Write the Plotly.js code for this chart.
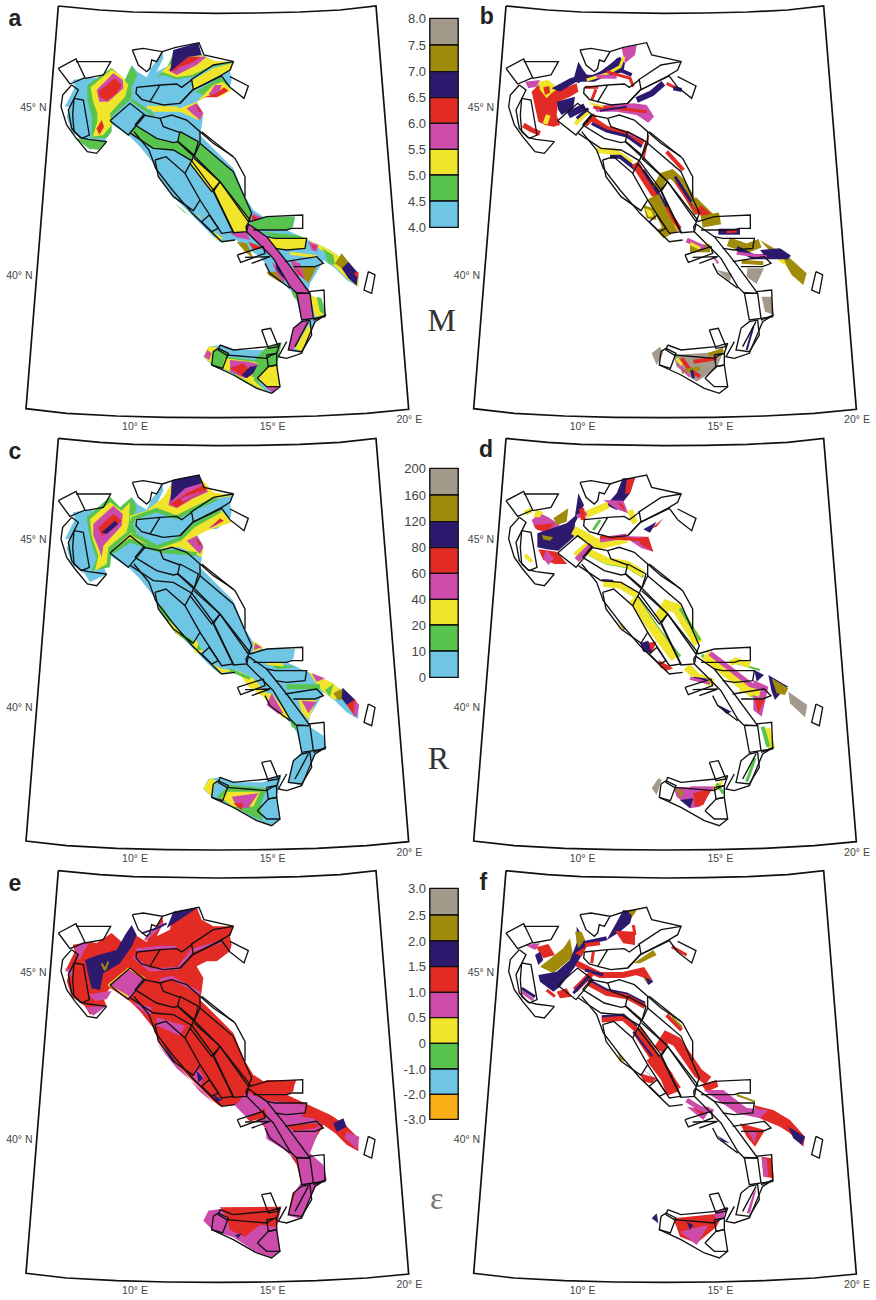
<!DOCTYPE html>
<html><head><meta charset="utf-8">
<script src="https://cdn.plot.ly/plotly-3.0.1.min.js"></script>
<style>html,body{margin:0;padding:0;background:#fff}#g{width:876px;height:1300px}</style>
</head><body><div id="g"></div>
<script>
const C={B:'#6ec5e4',G:'#58c44e',Y:'#f0e52b',M:'#cc4bab',R:'#e12b24',N:'#2d1a6e',O:'#a08c0a',A:'#a49a8c',T:'#f8b016'};
const magLabels=['8.0','7.5','7.0','6.5','6.0','5.5','5.0','4.5','4.0'];
const rateLabels=['200','160','120','80','60','40','20','10','0'];
const epsLabels=['3.0','2.5','2.0','1.5','1.0','0.5','0','-1.0','-2.0','-3.0'];
const magColors=['A','O','N','R','M','Y','G','B'];
const epsColors=['A','O','N','R','M','Y','G','B','T'];
const magEdges=[55,135,215,293,370,448,525,603,682];
const rateEdges=[115,195,275,353,430,508,585,663,742];
const epsEdges=[85,165,243,320,397,473,550,627,703,778];
const land=[218,240,270,232,290,235,335,205,375,240,395,195,412,215,440,232,455,200,470,182,487,155,490,175,470,215,510,195,520,150,590,128,605,165,640,185,700,185,690,215,695,240,690,260,650,290,620,290,590,305,610,340,605,380,600,405,650,455,700,505,735,590,760,630,790,650,885,650,880,680,860,690,925,720,990,750,1040,785,1075,820,1075,860,1040,840,1005,805,970,780,960,800,930,850,925,880,970,910,980,945,950,960,930,1000,905,1060,865,1050,880,985,905,960,890,900,870,870,850,850,810,820,795,790,780,770,740,745,710,720,660,725,640,710,600,670,530,600,480,540,460,490,420,440,385,405,330,370,310,400,320,425,270,450,255,425,215,395,200,350,210,320,195,320,225,260];
const sicily=[610,1070,625,1040,660,1035,710,1050,790,1050,845,1025,830,1090,840,1160,815,1180,770,1165,700,1120,640,1100];
const zones=[
[175,205,228,177,255,233,210,252,175,205],
[228,185,332,185,310,225,255,235],
[215,255,188,285,183,320,200,375,225,410,262,455,290,460,320,425,265,418,240,412,215,385,205,330,220,300,235,270,215,255],
[222,295,250,300,268,405,245,415,222,395,218,345,222,295],
[397,150,430,145,487,155,470,185,455,180,450,205,440,215,415,195,397,150],
[410,262,480,255,450,305,425,298,408,280,410,262],
[480,255,530,252,545,262,575,240,580,268,540,310,490,315,450,305],
[572,240,640,195,700,185,690,210,660,228,578,270],
[540,310,578,270,665,228,690,262],
[690,230,745,258,732,295,690,262],
[330,362,390,310,435,345,400,385,385,405,330,362],
[405,375,430,345,480,355,515,345,560,360,600,395,600,430,582,470],
[405,375,470,415,520,428,535,425,582,465,575,482,520,450,460,445,392,400],
[540,395,595,425,582,470,533,425,540,395],
[480,355,490,380,540,398],
[465,480,498,470,555,520,600,600,580,632,520,590,475,530,465,480],
[555,520,575,482,640,570,700,695,665,700,630,645,600,600],
[605,665,628,645,655,685,635,695,605,665],
[582,475,660,545,635,575,570,490],
[660,545,750,660,738,680,740,695,700,698,640,575,660,545],
[600,430,700,515,755,640,745,665,660,545,585,470],
[605,395,705,475,735,530,735,590],
[402,395,447,450,467,505,517,570,577,640,635,695,665,725,705,720],
[745,672,800,710,860,785,925,870,930,880,890,880,870,860,820,775,740,695,745,672],
[750,665,800,650,908,645,908,685,875,685,860,690,760,690],
[800,710,825,715,920,715,915,745,860,750,825,745],
[855,785,950,770,970,790,945,800,880,800],
[712,765,790,740,795,760,722,787,712,765],
[735,772,810,770,755,790],
[890,878,930,880,940,955,905,960,890,878],
[925,875,972,870,975,950,940,955],
[880,985,905,965,930,960,935,1005,905,1055,865,1050,880,985],
[885,1040,925,965],
[940,960,978,945,945,965,930,1000,905,1060,860,1075,835,1070,860,1025],
[870,865,850,850,810,820,795,790],
[660,1035,700,1050,805,1040,840,1030,830,1060,815,1065,800,1075,680,1065,655,1050,660,1035],
[640,1055,655,1045,685,1060,668,1105,635,1095,640,1055],
[785,990,812,985,835,1040,805,1045,785,990],
[800,1065,830,1060,830,1095,805,1100,800,1065],
[772,1135,805,1100,830,1095,840,1160,800,1160,772,1135],
[635,1095,700,1125,770,1165,815,1180,840,1160],
[1105,815,1125,825,1115,880,1092,870,1105,815],
[487,155,527,142,597,128,612,165,702,185],
[600,395,640,430,700,470]
];
const frame=[175,18,300,30,400,36,530,39,650,40,770,39,900,36,1020,30,1128,18,1226,1228,1100,1240,950,1248,800,1252,650,1253,500,1252,350,1248,200,1240,78,1226,175,18];
const fillsA=[
['G',[225,415,320,425,295,450,265,445]],
['G',[262,255,335,203,375,240,395,197,412,225,395,262,395,295,335,350,335,395,320,415,275,415,275,350,262,300]],
['Y',[272,262,335,208,365,228,385,255,375,290,330,340,335,375,310,405,278,410,292,365,292,340,278,300]],
['M',[290,270,340,220,368,240,370,265,325,305,298,305]],
['R',[295,275,345,235,365,255,350,280,320,302,300,290]],
['R',[290,385,305,360,312,380,298,405]],
['G',[470,232,500,205,525,150,605,165,640,182,700,190,640,200,580,230,530,238,490,225]],
['Y',[485,215,515,190,600,165,640,182,695,186,640,196,575,225,530,232]],
['M',[505,210,565,170,620,170,590,195,530,225]],
['R',[510,215,565,170,600,170,585,185,530,210]],
['M',[530,205,570,190,610,172,590,188,540,212]],
['N',[520,150,595,128,605,165,565,170,510,215]],
['Y',[578,240,640,205,695,190,695,210,660,225,580,265]],
['G',[585,275,660,232,690,255,660,262,610,285]],
['Y',[590,305,640,255,668,245,695,270,660,290,620,290]],
['M',[625,285,645,255,665,255,655,285]],
['R',[612,292,650,280,672,262,685,272,650,292]],
['Y',[445,320,540,325,590,305,610,345,595,360,540,335,460,335]],
['M',[560,325,590,310,610,340,600,360,575,340]],
['R',[590,315,605,335,595,335]],
['G',[405,375,470,415,520,428,535,425,582,465,575,482,520,450,460,445,392,400]],
['G',[540,395,595,425,582,470,533,425]],
['G',[600,430,700,515,755,640,745,665,660,545,585,470]],
['Y',[582,475,660,545,635,575,570,490]],
['Y',[660,545,750,660,738,680,740,695,700,698,640,575]],
['G',[750,665,800,650,885,650,875,685,860,690,760,690]],
['Y',[800,712,825,715,920,715,915,745,860,750,825,745]],
['G',[785,695,890,705,920,715,825,715]],
['B',[855,785,950,770,970,790,945,800,880,800]],
['Y',[925,720,990,750,1040,785,1075,825,1075,860,1040,835,1005,800,990,790,975,760]],
['G',[965,745,1000,765,1005,795,985,790,975,760]],
['M',[925,725,955,735,950,755,935,750]],
['R',[935,735,948,740,942,750]],
['O',[1005,790,1025,760,1045,785,1025,805]],
['N',[1025,805,1045,785,1075,820,1070,857,1045,835]],
['R',[1060,820,1075,815,1075,835]],
['M',[760,640,790,655,755,665]],['R',[755,645,775,655,755,660]],
['Y',[640,695,670,715,650,722]],
['M',[690,700,740,695,750,720,710,712]],
['O',[710,725,740,730,760,775,735,755]],
['R',[745,725,770,735,790,745,760,750]],
['O',[800,815,840,815,845,850,805,825]],
['M',[815,785,860,825,850,850,825,810]],
['N',[825,780,855,815,850,835,830,810]],
['O',[900,800,950,800,925,850,905,830]],
['M',[870,780,900,790,915,835,890,825]],
['R',[880,800,900,815,915,840,895,820]],
['M',[745,672,800,710,860,785,925,870,930,880,890,880,870,860,820,775,740,695]],
['M',[890,878,930,880,940,955,905,960]],
['Y',[930,885,965,900,975,945,945,950]],
['G',[950,890,965,895,975,945,960,935]],
['M',[880,985,905,965,930,960,900,1010,880,1050,865,1050]],
['Y',[925,975,935,990,905,1055,885,1045]],
['G',[875,870,890,880,895,905,880,890]],
['Y',[610,1070,625,1040,650,1040,640,1095]],
['M',[612,1070,622,1050,635,1060,628,1080]],
['G',[640,1055,655,1045,685,1060,668,1105,635,1095]],
['G',[795,1045,845,1028,830,1100,805,1100,760,1085]],
['G',[680,1070,760,1080,770,1135,790,1170,740,1150,695,1120,665,1105]],
['Y',[675,1075,760,1085,790,1095,760,1140,800,1175,750,1150,695,1115,665,1105]],
['M',[690,1080,745,1085,785,1095,755,1125,735,1135,690,1115]],
['R',[690,1105,730,1090,755,1115,730,1130]],
['N',[725,1125,750,1100,785,1095,760,1120,740,1135]],
['G',[785,1070,800,1075,820,1065,835,1100,805,1100,770,1135,755,1130]],
['Y',[772,1135,805,1100,830,1095,840,1160,800,1160]],
['M',[795,1160,835,1158,820,1180]],
['G',[525,610,560,640,575,650,550,635]],
['Y',[590,640,605,655,595,650]]
];
const strokesA=[
['Y',3,[440,322,470,322,535,325]],
['G',3,[395,300,460,345]],
['Y',3,[575,265,650,225]],
['Y',3,[870,760,950,770]]
];
const fillsB=[
['R',[215,275,240,250,270,270,300,270,350,250,355,275,330,290,295,305,290,345,300,375,280,380,255,375,235,365,225,320]],
['Y',[235,245,265,240,295,265,275,280,260,295,240,270]],
['R',[250,262,268,258,270,278,255,285]],
['N',[290,305,345,290,340,325,305,345,295,330]],
['N',[275,265,330,235,345,230,350,245,300,275]],
['N',[355,185,370,210,385,230,355,250,340,240]],
['M',[195,245,240,240,230,260,205,265]],
['M',[485,145,530,135,525,165,495,190]],
['N',[440,200,480,170,495,190,490,215,430,235,400,230]],
['M',[400,318,520,310,560,315,582,350,565,368,530,345,470,335,410,335]],
['O',[550,615,580,625,590,660,560,655]],
['Y',[555,625,575,632,580,650,565,650]],
['O',[590,690,620,675,640,700,610,715]],
['O',[900,720,985,770,1040,820,1030,855,995,825,975,790,935,760]],
['Y',[945,770,970,775,980,795,965,790]],
['N',[900,750,960,745,985,772,920,775]],
['A',[770,810,815,820,810,845]],
['A',[862,805,912,805,890,852,860,830]],
['A',[905,890,935,890,942,945,915,935]],
['A',[575,1060,600,1040,610,1060,590,1095]],
['A',[640,1065,790,1055,770,1105,710,1145,650,1100]]
];
const strokesB=[
['Y',5,[265,345,255,372]],['R',5,[190,375,215,390,240,400]],
['N',7,[355,235,400,235,445,215,480,180]],['Y',3,[380,240,440,222,480,200,492,170]],
['M',4,[410,230,470,230]],['R',3,[440,215,510,235,520,260]],['N',4,[480,210,515,225]],
['R',3,[375,262,415,262]],['R',3,[408,268,395,300]],
['N',6,[530,300,575,280,610,250]],['R',3,[620,250,650,265]],['N',4,[640,265,665,270]],
['N',7,[325,345,375,320]],['Y',4,[345,372,385,335]],['N',3,[350,355,385,325]],['R',5,[375,375,405,345]],
['R',3,[400,322,470,325,560,335]],['N',2,[420,332,500,320]],['Y',2,[390,310,430,320]],
['R',5,[395,355,440,385,500,400,550,430]],['N',3,[395,370,440,393,500,408,545,440]],['M',2,[500,398,550,420]],
['R',2,[565,405,550,480]],
['Y',6,[410,450,465,455,515,490]],['N',4,[450,470,480,470,525,505]],
['R',8,[525,490,570,560,625,640,655,690]],['N',3,[550,510,620,620]],['Y',3,[575,590,650,690]],
['O',9,[590,565,610,530,635,522,665,550,715,640]],['R',5,[650,545,715,640]],['N',3,[645,530,700,615]],
['O',12,[580,590,610,650,635,700]],['R',4,[620,455,670,510]],
['O',8,[700,600,750,650]],['R',8,[715,625,750,655]],
['O',12,[725,665,780,655]],['N',6,[775,695,840,695]],['R',3,[800,695,830,693]],
['O',9,[805,725,860,745,900,730]],['N',5,[830,745,880,770,985,770]],['M',3,[830,760,920,770]],
['O',4,[845,785,910,790]],['N',3,[960,750,990,770]],
['O',8,[690,745,750,745]],['M',5,[680,720,735,745]],['Y',3,[690,730,720,745]],['M',2,[760,770,775,790]],
['N',2,[880,980,860,1050]],
['R',4,[665,1075,690,1110,720,1130]],['O',4,[665,1115,720,1105]],['Y',3,[650,1075,665,1095]],['N',3,[695,1110,700,1135]],['R',4,[700,1085,770,1075]],['O',4,[745,1065,790,1050]],['M',2,[650,1090,690,1130]]
];
const fillsC=[
['G',[260,262,330,200,360,232,395,202,410,232,395,277,410,307,335,362,330,412,275,422,290,387,270,327]],
['Y',[270,267,330,217,365,242,390,217,385,302,325,352,320,402,285,422,295,377,275,317]],
['M',[280,282,340,227,368,252,365,287,310,347,305,382,295,352,280,317]],
['R',[295,292,340,252,365,272,330,302,305,317]],
['N',[305,307,345,272,355,282,320,312]],
['Y',[390,297,390,257,440,242,490,202,520,152,605,147,640,187,700,197,640,207,580,242,530,257,470,247,410,265]],
['M',[505,225,520,160,600,152,625,185,580,205,530,235]],
['R',[510,222,560,190,612,165,620,180,575,205,530,232]],
['N',[515,150,597,135,605,160,555,175,512,215]],
['M',[540,205,585,190,610,180,590,195,550,215]],
['Y',[395,307,460,352,530,327,580,287,665,242,695,277,620,302,590,317,610,357,605,382,540,352,470,357,400,327,345,352]],
['M',[560,332,590,317,610,352,600,372,575,347]],
['R',[590,322,607,345,595,345]],
['M',[625,295,660,268,672,272,640,290]],
['R',[630,292,670,272,660,265,640,285]],
['Y',[585,625,610,665,585,670,578,640]],
['G',[595,640,605,660,590,660]],
['Y',[760,632,790,652,760,670]],['M',[765,640,785,652,762,660]],
['Y',[635,700,660,715,720,725,760,745,800,790,815,790,870,860,850,865,790,800,745,770,710,720,660,730]],
['M',[800,825,815,790,850,850,835,852]],
['G',[810,700,890,710,830,718]],
['Y',[925,725,1000,760,1025,785,1005,810,975,790,955,770]],
['M',[935,730,975,745,950,755]],
['O',[1000,790,1030,775,1030,805,1015,812]],
['N',[1028,773,1066,810,1040,825,1025,805]],
['R',[1040,825,1065,808,1075,825,1065,860]],
['M',[1065,812,1078,825,1070,862,1060,850]],
['G',[975,780,1000,762,990,800]],
['Y',[895,810,950,810,925,870,905,845]],
['M',[905,812,950,815,925,850]],
['G',[870,870,885,875,890,900,875,890]],
['Y',[610,1075,630,1045,648,1050,635,1100]],
['G',[650,1100,690,1065,800,1075,780,1130,790,1182,815,1185,770,1165,700,1130]],
['Y',[680,1085,780,1085,760,1130,700,1130,665,1105]],
['M',[695,1100,775,1090,745,1135,710,1130]],
['R',[700,1120,730,1120,725,1140]]
];
const strokesC=[
['G',4,[385,305,400,265,470,240,530,262,580,237,650,205]],
['G',4,[395,310,470,352,540,327,580,287,660,242]],
['G',4,[335,367,390,332,480,362,590,372]],
['G',4,[480,530,530,605,580,640]],
['Y',3,[505,575,540,615]],
['G',5,[860,770,960,770]],
['Y',3,[800,700,850,705]],
['G',3,[690,720,750,745]]
];
const fillsD=[
['M',[215,270,240,250,265,262,300,285,255,310,225,295]],
['R',[222,285,285,280,262,302,232,300]],
['N',[232,310,320,280,345,258,355,190,372,225,345,280,342,320,295,362,260,358,232,352]],
['O',[280,265,325,235,320,275,290,285]],
['O',[245,315,280,322,270,332,250,328]],
['R',[235,358,290,365,322,402,285,402,250,390]],
['M',[258,360,282,385,265,405,250,385]],
['Y',[228,240,250,245,240,262,220,262]],
['N',[488,145,525,145,510,190,470,240,438,225,470,190]],
['R',[500,150,525,143,510,190,495,192]],
['M',[430,210,490,212,505,250,470,238]],
['R',[470,215,490,225,495,245]],
['M',[490,318,560,320,580,365,545,355]],
['R',[530,325,565,320,580,365,545,345]],
['R',[550,640,590,635,575,670,545,660]],
['N',[540,640,565,632,575,670,550,665]],
['R',[595,690,640,715,620,722,600,712]],
['O',[470,570,500,600,490,600]],
['N',[883,720,912,735,890,755]],
['N',[925,735,985,770,975,775,945,810,935,785]],
['O',[935,745,985,775,975,795,950,790]],
['A',[985,785,1042,825,1035,862,990,820]],
['N',[770,822,815,845,800,852]],
['R',[575,295,610,265,590,290]],
['N',[550,298,590,275,570,308]],
['A',[575,1075,595,1045,605,1050,590,1095]],
['M',[640,1070,760,1075,720,1130,690,1135,650,1100]],
['R',[700,1090,755,1075,730,1125,705,1130]],
['N',[660,1110,700,1105,690,1135]],
['O',[645,1075,670,1085,665,1105]],
['Y',[740,1080,790,1050,780,1080]],
['M',[880,750,925,770,905,860,880,840]],
['R',[885,810,915,805,895,850]]
];
const strokesD=[
['Y',5,[195,250,215,240]],['Y',4,[195,375,215,395]],
['Y',9,[340,300,420,345,500,325]],['M',5,[420,330,500,318]],['R',3,[420,322,560,330]],
['Y',7,[375,255,445,225]],['Y',6,[510,240,525,280]],['G',3,[420,270,400,300]],['M',4,[350,260,380,250]],
['R',5,[365,235,370,270]],
['G',3,[390,375,440,400,500,410,550,440]],['Y',7,[385,365,440,392,500,402,550,432]],
['Y',7,[430,460,480,465,530,495]],['N',2,[425,450,460,452]],
['G',3,[530,500,590,590,660,680]],['Y',9,[520,505,575,590,645,685]],
['Y',10,[595,565,620,525,650,535,715,640]],['G',3,[660,535,720,630]],
['G',3,[725,675,830,760,880,800]],['Y',10,[735,675,830,750,880,790]],['M',5,[750,670,850,745,905,790]],
['Y',6,[810,700,835,690]],['Y',7,[840,775,900,790]],['G',2,[830,700,900,720]],['Y',6,[820,690,870,705]],
['Y',8,[680,710,710,740,760,760]],['N',3,[700,745,740,750]],['M',3,[690,745,750,760]],
['Y',7,[920,895,935,955]],['G',4,[908,890,925,950]],
['G',3,[885,985,860,1055]],['Y',5,[345,375,385,340]],['M',6,[350,390,395,345]],
['M',4,[690,1075,760,1075]],['G',3,[770,1060,790,1090]]
];
const fillsE=[
['M',[225,260,270,245,250,275,240,300,232,295]],
['M',[195,325,220,330,215,350]],
['N',[255,300,295,285,350,270,375,225,395,195,410,225,395,260,360,310,310,340,300,390,275,385,265,345]],
['M',[265,403,335,393,320,418,285,423]],
['M',[255,442,320,437,280,467]],
['M',[330,377,385,329,435,362,400,407,380,417]],
['M',[470,472,555,497,540,527,470,497]],
['M',[395,427,455,442,450,470]],
['M',[705,737,740,697,800,720,920,735,915,760,965,790,930,880,970,915,980,957,950,975,930,1017,905,1077,865,1067,890,987,905,965,890,900,850,867,800,837,795,797,770,777,750,782]],
['R',[750,690,800,660,890,660,880,680,790,705]],
['R',[740,775,795,745,800,770,750,785]],
['R',[860,795,970,790,945,805,880,812]],
['R',[925,738,1000,770,1040,800,1030,815,960,778,905,770,920,745]],
['N',[1000,790,1030,775,1040,800,1010,815]],
['M',[1040,815,1078,830,1072,868,1035,835]],
['M',[610,1082,625,1052,660,1047,700,1062,790,1062,845,1037,830,1102,840,1172,815,1192,770,1177,700,1132,640,1112]],
['R',[660,1042,840,1040,830,1100,780,1095,735,1130,690,1110,680,1070]],
['N',[705,1125,725,1120,715,1135]],
['N',[500,205,520,155,590,145,560,165]],
['M',[470,550,530,612,600,695,640,728,610,695,530,625]],
['N',[490,552,530,610,515,600]],
['M',[590,620,612,650,600,680,580,650]],
['N',[590,632,610,655,595,668]],
['N',[640,705,668,720,650,725]]
];
const strokesE=[
['O',2,[305,310,315,330,325,305]],['O',2,[315,330,312,320]],
['Y',1.5,[325,375,385,325,435,355]],['Y',1.5,[325,375,385,410]],
['M',3,[400,290,450,330,535,325,575,272,665,245]],
['M',3,[408,270,480,262,530,262]],
['M',3,[435,240,490,190]],['M',3,[480,360,515,352,600,400]],
['N',2,[425,220,470,205,500,190]]
];
const fillsF=[
['M',[195,255,240,250,225,270]],
['R',[228,262,265,252,285,285,250,295]],
['O',[240,320,310,265,330,235,340,290,280,340]],
['N',[235,345,290,335,330,300,350,250,350,200,375,240,380,260,345,320,300,380,280,395,240,365]],
['N',[225,285,240,275,250,300,235,315]],
['O',[345,215,365,215,375,240,355,265]],
['R',[290,395,320,385,335,410,300,415]],
['N',[490,150,520,155,510,190,480,215,440,240,460,205]],
['O',[500,150,530,150,518,170]],
['R',[465,212,525,215,525,255,490,250]],
['R',[345,280,380,258,365,290]],
['O',[520,310,580,270,590,285,540,310]],
['R',[500,335,555,325,580,365,555,355]],
['O',[550,355,565,350,565,375]],
['N',[555,350,580,365,565,375]],
['O',[470,570,495,605,480,600]],
['R',[540,640,590,655,575,670,550,665]],
['N',[545,625,590,660,575,650]],
['R',[725,675,770,660,775,680,740,695]],
['M',[730,690,790,690,900,775,830,760]],
['R',[880,735,940,750,990,780,1035,830,1030,860,990,820,960,800,900,775]],
['M',[820,740,925,750,900,775]],
['N',[985,800,1035,830,1025,855,1000,835]],
['R',[840,790,915,810,885,860,860,830]],
['M',[860,810,890,815,885,850]],
['M',[680,740,750,750,730,780]],
['R',[700,745,750,740,725,765]],
['N',[770,825,810,850,790,845]],
['R',[905,890,935,895,942,955,910,950]],
['M',[905,895,920,895,925,950,912,950]],
['N',[575,1075,590,1060,595,1090]],
['R',[640,1075,790,1060,770,1100,710,1150,660,1130]],
['M',[660,1115,700,1105,745,1095,710,1155]],
['N',[680,1085,700,1095,690,1110]],
['M',[765,1055,800,1040,790,1075,765,1090]],
['M',[880,1000,890,985,870,1060,860,1060]]
];
const strokesF=[
['R',6,[350,310,420,345,490,345,555,330]],
['N',3,[375,330,430,345]],
['N',4,[370,250,440,235]],['R',4,[375,255,420,250]],
['R',3,[400,275,395,310]],['R',3,[520,195,525,225]],
['R',6,[345,390,395,340]],['N',3,[340,400,385,350]],
['N',3,[385,360,440,390,500,402,555,430]],['R',5,[385,370,440,400,500,410,555,440]],
['N',3,[425,470,490,465,530,500]],['R',5,[425,480,490,475,530,510]],
['R',10,[530,510,590,600,650,690]],['N',2,[520,515,585,600]],
['R',10,[595,570,620,530,650,545,715,640,745,662]],
['R',13,[575,590,620,650,640,700]],
['R',4,[620,465,665,510]],['O',2,[635,470,665,500]],
['M',5,[680,720,720,745,760,755]],
['N',3,[185,385,225,410]],['M',3,[185,395,220,420]],
['R',3,[635,260,680,285]],['R',3,[260,390,285,410]],
['O',2,[830,705,885,725]]
];
const panels=[
{key:'a',fills:fillsA,strokes:strokesA,base:['B','B'],dx:0,dy:0,x0:0,x1:460,y0:0,y1:430,letter:[45,60],letterName:'a',bar:{edges:magEdges,colors:magColors,labels:magLabels},sym:['M',1325,970]},
{key:'b',fills:fillsB,strokes:strokesB,base:null,dx:-37,dy:0,x0:460,x1:876,y0:0,y1:430,letter:[80,55],letterName:'b'},
{key:'c',fills:fillsC,strokes:strokesC,base:['B','B'],dx:0,dy:7,x0:0,x1:460,y0:430,y1:860,letter:[45,70],letterName:'c',bar:{edges:rateEdges,colors:magColors,labels:rateLabels},sym:['R',1315,993]},
{key:'d',fills:fillsD,strokes:strokesD,base:null,dx:-37,dy:7,x0:460,x1:876,y0:430,y1:860,letter:[78,65],letterName:'d'},
{key:'e',fills:fillsE,strokes:strokesE,base:['R',null],dx:0,dy:14,x0:0,x1:460,y0:860,y1:1300,letter:[45,75],letterName:'e',bar:{edges:epsEdges,colors:epsColors,labels:epsLabels},sym:['ε',1310,1022]},
{key:'f',fills:fillsF,strokes:strokesF,base:null,dx:-37,dy:14,x0:460,x1:876,y0:860,y1:1300,letter:[70,72],letterName:'f'}
];
const geoText=['45° N','40° N','10° E','15° E','20° E'];
const geoX=[100,58,405,818,1228];
const geoY=[325,828,1281,1281,1262];

const split=f=>{const x=[],y=[];for(let i=0;i<f.length;i+=2){x.push(f[i]);y.push(f[i+1]);}return [x,y];};
const traces=[];
const layout={width:876,height:1300,margin:{l:0,r:0,t:0,b:0},paper_bgcolor:'#fff',plot_bgcolor:'rgba(0,0,0,0)',showlegend:false,hovermode:false,font:{family:'Liberation Sans, Arial, sans-serif'}};
panels.forEach((p,i)=>{
  const s=i?String(i+1):'';
  const xa='x'+s,ya='y'+s;
  const ax={visible:false,fixedrange:true};
  layout['xaxis'+s]=Object.assign({},ax,{anchor:ya,domain:[p.x0/876,p.x1/876],range:[0,(p.x1-p.x0)*3]});
  layout['yaxis'+s]=Object.assign({},ax,{anchor:xa,domain:[1-p.y1/1300,1-p.y0/1300],range:[(p.y1-p.y0)*3,0]});
  const poly=(col,f)=>{const [x,y]=split(f);traces.push({type:'scatter',mode:'none',x,y,xaxis:xa,yaxis:ya,fill:'toself',fillcolor:col,hoverinfo:'skip'});};
  const line=(col,w,f)=>{const [x,y]=split(f);traces.push({type:'scatter',mode:'lines',x,y,xaxis:xa,yaxis:ya,line:{color:col,width:w,shape:'linear'},hoverinfo:'skip'});};
  const shift=f=>f.map((v,j)=>j%2?v+p.dy:v+p.dx);
  if(p.base){ if(p.base[0])poly(C[p.base[0]],shift(land)); if(p.base[1])poly(C[p.base[1]],shift(sicily)); }
  p.fills.forEach(([c,f])=>poly(C[c],f));
  p.strokes.forEach(([c,w,f])=>line(C[c],w,f));
  zones.forEach(z=>line('#111',1.35,shift(z)));
  line('#111',1.7,shift(frame));
  if(p.bar){
    const e=p.bar.edges;
    traces.push({type:'bar',x:p.bar.colors.map(()=>1332),y:p.bar.colors.map((_,j)=>e[j+1]-e[j]),base:e.slice(0,-1),width:85,xaxis:xa,yaxis:ya,marker:{color:p.bar.colors.map(c=>C[c]),line:{color:'#111',width:1.4}},hoverinfo:'skip'});
    traces.push({type:'scatter',mode:'text',x:e.map(()=>1278),y:e.map(v=>v+4),text:p.bar.labels,textposition:'middle left',cliponaxis:false,xaxis:xa,yaxis:ya,textfont:{size:13,color:'#444',family:'Liberation Sans'},hoverinfo:'skip'});
    traces.push({type:'scatter',mode:'text',x:[p.sym[1]],y:[p.sym[2]],text:[p.sym[0]],textposition:'middle center',cliponaxis:false,xaxis:xa,yaxis:ya,textfont:{size:32,color:p.sym[0]==='ε'?'#777':'#333',family:'Liberation Serif'},hoverinfo:'skip'});
  }
  traces.push({type:'scatter',mode:'text',x:geoX.map(v=>v+p.dx),y:geoY.map(v=>v+p.dy),text:geoText,textposition:'middle center',cliponaxis:false,xaxis:xa,yaxis:ya,textfont:{size:10.5,color:'#444',family:'Liberation Sans'},hoverinfo:'skip'});
  traces.push({type:'scatter',mode:'text',x:[p.letter[0]],y:[p.letter[1]],text:['<b>'+p.letterName+'</b>'],textposition:'middle center',cliponaxis:false,xaxis:xa,yaxis:ya,textfont:{size:23,color:'#222',family:'Liberation Sans'},hoverinfo:'skip'});
});
Plotly.newPlot('g',traces,layout,{staticPlot:true,displayModeBar:false});
</script></body></html>
